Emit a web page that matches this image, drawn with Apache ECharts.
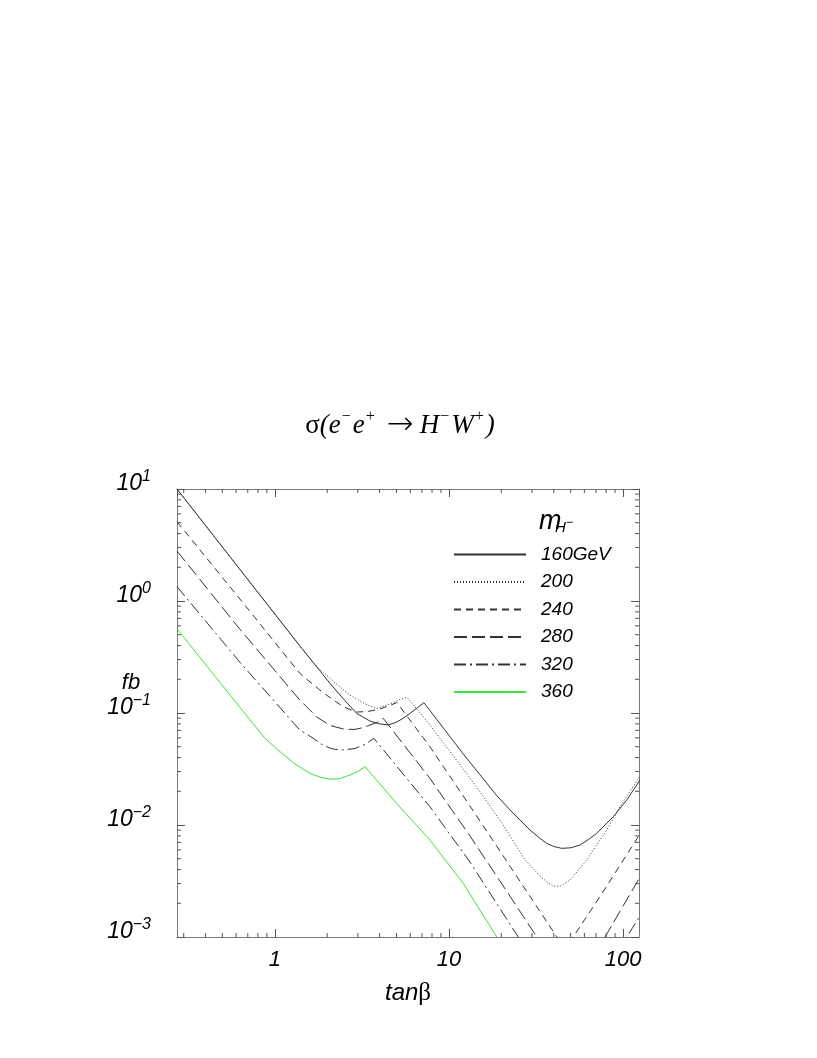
<!DOCTYPE html>
<html>
<head>
<meta charset="utf-8">
<title>sigma(e-e+ -> H-W+)</title>
<script src="https://cdn.jsdelivr.net/npm/echarts@6/dist/echarts.min.js"></script>
<style>
    html, body { margin: 0; padding: 0; background: #fff; }
    #chart { width: 817px; height: 1058px; }
</style>
</head>
<body>
<div id="chart"></div>
<script>
    // tan(beta) / cross-section [fb] pairs
    var masses = ['160GeV', '200', '240', '280', '320', '360'];

    var s160 = [[0.2745, 10.0], [0.718, 1.48], [1.392, 0.398], [2.079, 0.1834], [2.525, 0.1293], [2.949, 0.0994],
        [3.516, 0.0848], [3.960, 0.0802], [4.478, 0.0781], [4.960, 0.0823], [5.462, 0.0897], [5.969, 0.0990],
        [6.522, 0.110], [7.183, 0.1236], [12.08, 0.0432], [18.80, 0.01834], [23.42, 0.01272], [29.21, 0.00902],
        [33.34, 0.00760], [36.43, 0.00686], [40.0, 0.00643], [44.43, 0.00619], [50.0, 0.00626], [56.61, 0.00663],
        [63.0, 0.00738], [70.62, 0.00843], [87.98, 0.01187], [105.0, 0.0167], [125.2, 0.0252]];

    var s200 = [[0.2745, 10.0], [0.718, 1.48], [1.392, 0.398], [1.654, 0.283], [2.154, 0.193], [2.698, 0.1448],
        [3.304, 0.1203], [3.842, 0.1097], [4.58, 0.1203], [5.229, 0.132], [5.76, 0.138], [7.778, 0.0781],
        [13.21, 0.0263], [15.07, 0.01983], [20.52, 0.0100], [27.35, 0.00487], [33.34, 0.00351], [36.58, 0.0031],
        [39.77, 0.00285], [43.45, 0.00283], [49.6, 0.00323], [55.0, 0.00390], [61.85, 0.00487], [80.6, 0.00902],
        [96.1, 0.01457], [124.1, 0.0268]];

    var s240 = [[0.2745, 5.11], [0.718, 0.812], [1.392, 0.226], [1.814, 0.1604], [2.163, 0.1306], [2.525, 0.112],
        [2.949, 0.102], [3.423, 0.1031], [4.012, 0.1086], [4.58, 0.1167], [5.025, 0.1241], [7.778, 0.05],
        [13.21, 0.01478], [22.41, 0.0043], [41.59, 0.001006], [45.8, 0.00078], [51.82, 0.001006], [73.77, 0.0023],
        [124.1, 0.00814]];

    var s280 = [[0.2745, 2.795], [0.629, 0.562], [1.392, 0.1306], [1.743, 0.0921], [2.079, 0.0773], [2.525, 0.0715],
        [2.883, 0.0714], [3.235, 0.0742], [3.857, 0.0823], [4.193, 0.0897], [7.778, 0.0261], [13.21, 0.00798],
        [20.52, 0.00285], [31.92, 0.001006], [40.7, 0.000586], [50.3, 0.000413], [64.6, 0.000598], [78.81, 0.001],
        [124.1, 0.00336]];

    var s320 = [[0.2745, 1.342], [0.629, 0.285], [1.392, 0.0705], [1.589, 0.0623], [1.905, 0.0513], [2.154, 0.0477],
        [2.469, 0.0467], [2.883, 0.0482], [3.290, 0.0523], [3.707, 0.0594], [7.778, 0.01457], [13.21, 0.00467],
        [25.02, 0.001], [35.62, 0.000458], [50.9, 0.000303], [73.77, 0.000458], [105.0, 0.001], [124.1, 0.00151]];

    var s360 = [[0.2745, 0.566], [0.4247, 0.242], [0.661, 0.1027], [0.87, 0.0604], [1.027, 0.0477], [1.15, 0.0413],
        [1.281, 0.0358], [1.44, 0.0318], [1.595, 0.0289], [1.814, 0.0268], [2.079, 0.0256], [2.38, 0.026],
        [2.709, 0.028], [3.0, 0.0300], [3.304, 0.0331], [5.006, 0.0156], [7.778, 0.00735], [12.08, 0.00302],
        [18.8, 0.001006], [29.21, 0.000316]];

    var xMin = 0.2745, xMax = 123.5;
    var yMin = 0.001, yMax = 10;
    var xMinorTicks = [0.3, 0.4, 0.5, 0.6, 0.7, 0.8, 0.9, 2, 3, 4, 5, 6, 7, 8, 9, 20, 30, 40, 50, 60, 70, 80, 90];
    var yMinorTicks = [0.002, 0.003, 0.004, 0.005, 0.006, 0.007, 0.008, 0.009,
        0.02, 0.03, 0.04, 0.05, 0.06, 0.07, 0.08, 0.09,
        0.2, 0.3, 0.4, 0.5, 0.6, 0.7, 0.8, 0.9,
        2, 3, 4, 5, 6, 7, 8, 9];

    var FONT = '"Liberation Sans", Arial, sans-serif';
    var SERIF = '"Liberation Serif", "Times New Roman", serif';
    var frameColor = '#777';
    var tickStyle = {stroke: '#555', lineWidth: 1};

    function isPow10(v) {
        var e = Math.log10(v);
        return Math.abs(e - Math.round(e)) < 1e-6;
    }

    function minorX(params, api) {
        var v = api.value(0);
        var b = api.coord([v, yMin]);
        var t = api.coord([v, yMax]);
        return {
            type: 'group', children: [
                {type: 'line', shape: {x1: b[0], y1: b[1], x2: b[0], y2: b[1] - 4}, style: tickStyle},
                {type: 'line', shape: {x1: t[0], y1: t[1], x2: t[0], y2: t[1] + 4}, style: tickStyle}
            ]
        };
    }

    function minorY(params, api) {
        var v = api.value(1);
        var l = api.coord([xMin, v]);
        var r = api.coord([xMax, v]);
        return {
            type: 'group', children: [
                {type: 'line', shape: {x1: l[0], y1: l[1], x2: l[0] + 4, y2: l[1]}, style: tickStyle},
                {type: 'line', shape: {x1: r[0], y1: r[1], x2: r[0] - 4, y2: r[1]}, style: tickStyle}
            ]
        };
    }

    var lineTypes = ['solid', [1, 2], [7, 5], [13, 5], [12, 4, 2, 4], 'solid'];
    var lineColors = ['#333', '#333', '#333', '#333', '#333', '#3de03d'];
    var allData = [s160, s200, s240, s280, s320, s360];

    var series = masses.map(function (m, i) {
        return {
            name: m,
            type: 'line',
            symbol: 'none',
            smooth: false,
            data: allData[i],
            lineStyle: {color: lineColors[i], width: 1, type: lineTypes[i]},
            itemStyle: {color: lineColors[i]},
            z: 3
        };
    });
    series.push({
        type: 'custom', silent: true, renderItem: minorX,
        data: xMinorTicks.map(function (v) { return [v, yMin]; }), z: 4
    });
    series.push({
        type: 'custom', silent: true, renderItem: minorY,
        data: yMinorTicks.map(function (v) { return [xMin, v]; }), z: 4
    });

    var majorTick = {show: true, inside: true, length: 8, lineStyle: {color: '#555', width: 1}};
    var frameLine = {show: true, lineStyle: {color: frameColor, width: 1}};

    var chart = echarts.init(document.getElementById('chart'));
    var option = {
        animation: false,
        backgroundColor: '#fff',
        grid: {left: 177, top: 489, width: 462, height: 448, containLabel: false},
        legend: {
            data: masses,
            orient: 'vertical',
            left: 448,
            top: 540,
            itemWidth: 72,
            itemHeight: 16,
            itemGap: 8.5,
            selectedMode: false,
            itemStyle: {opacity: 0, borderWidth: 0},
            textStyle: {fontSize: 19, fontStyle: 'italic', fontFamily: FONT, color: '#000', lineHeight: 16, padding: [0, 0, 0, 10]}
        },
        xAxis: [{
            type: 'log', logBase: 10, min: xMin, max: xMax, position: 'bottom',
            axisLine: frameLine, axisTick: majorTick, splitLine: {show: false},
            axisLabel: {
                margin: 12, fontSize: 22, fontStyle: 'italic', fontFamily: FONT, color: '#000',
                showMinLabel: false, showMaxLabel: false,
                formatter: function (v) { return isPow10(v) ? String(Math.round(v)) : ''; }
            },
            name: '{i|tan}{g|β}', nameLocation: 'middle', nameGap: 44,
            nameTextStyle: {
                rich: {
                    i: {fontSize: 24, fontStyle: 'italic', fontFamily: FONT, color: '#000'},
                    g: {fontSize: 25, fontFamily: SERIF, color: '#000'}
                }
            }
        }, {
            type: 'log', logBase: 10, min: xMin, max: xMax, position: 'top',
            axisLine: frameLine, axisTick: majorTick, axisLabel: {show: false}, splitLine: {show: false}
        }],
        yAxis: [{
            type: 'log', logBase: 10, min: yMin, max: yMax, position: 'left',
            axisLine: frameLine, axisTick: majorTick, splitLine: {show: false},
            axisLabel: {
                margin: 26, showMinLabel: true, showMaxLabel: true,
                padding: [0, 0, 10, 0],
                formatter: function (v) {
                    var e = Math.round(Math.log10(v));
                    return '{b|10}{s|' + (e < 0 ? '\u2212' + (-e) : e) + '}';
                },
                rich: {
                    b: {fontSize: 23, lineHeight: 31, fontStyle: 'italic', fontFamily: FONT, color: '#000'},
                    s: {fontSize: 16, lineHeight: 16, verticalAlign: 'top', fontStyle: 'italic', fontFamily: FONT, color: '#000'}
                }
            }
        }, {
            type: 'log', logBase: 10, min: yMin, max: yMax, position: 'right',
            axisLine: frameLine, axisTick: majorTick, axisLabel: {show: false}, splitLine: {show: false}
        }],
        graphic: [{
            type: 'text', x: 400, y: 426,
            style: {
                text: '{n|σ}{i|(e}{s|\u2212}{i|e}{s|+}{a|\u2192}{i|H}{s|\u2212}{i|W}{s|+}{i|)}',
                align: 'center', verticalAlign: 'middle', textAlign: 'center', textVerticalAlign: 'middle',
                rich: {
                    n: {fontSize: 27, lineHeight: 34, fontFamily: SERIF, fill: '#000'},
                    i: {fontSize: 27, lineHeight: 34, fontStyle: 'italic', fontFamily: SERIF, fill: '#000'},
                    s: {fontSize: 16, lineHeight: 16, verticalAlign: 'top', fontFamily: SERIF, fill: '#000', padding: [0, 2, 0, 1]},
                    a: {fontSize: 32, lineHeight: 34, fontWeight: 200, fontFamily: '"DejaVu Sans"', fill: '#000', padding: [0, 6, 0, 10]}
                }
            }
        }, {
            type: 'text', x: 131, y: 683,
            style: {
                text: 'fb', font: 'italic 22px ' + FONT, fill: '#000',
                align: 'center', verticalAlign: 'middle', textAlign: 'center', textVerticalAlign: 'middle'
            }
        }, {
            type: 'text', x: 539, y: 521,
            style: {text: 'm', font: 'italic 27px ' + FONT, fill: '#000', align: 'left', verticalAlign: 'middle', textAlign: 'left', textVerticalAlign: 'middle'}
        }, {
            type: 'text', x: 555, y: 528,
            style: {text: 'H', font: 'italic 15px ' + FONT, fill: '#000', align: 'left', verticalAlign: 'middle', textAlign: 'left', textVerticalAlign: 'middle'}
        }, {
            type: 'text', x: 566, y: 523,
            style: {text: '\u2212', font: 'italic 12px ' + FONT, fill: '#000', align: 'left', verticalAlign: 'middle', textAlign: 'left', textVerticalAlign: 'middle'}
        }],
        series: series
    };
    chart.setOption(option);
</script>
</body>
</html>
